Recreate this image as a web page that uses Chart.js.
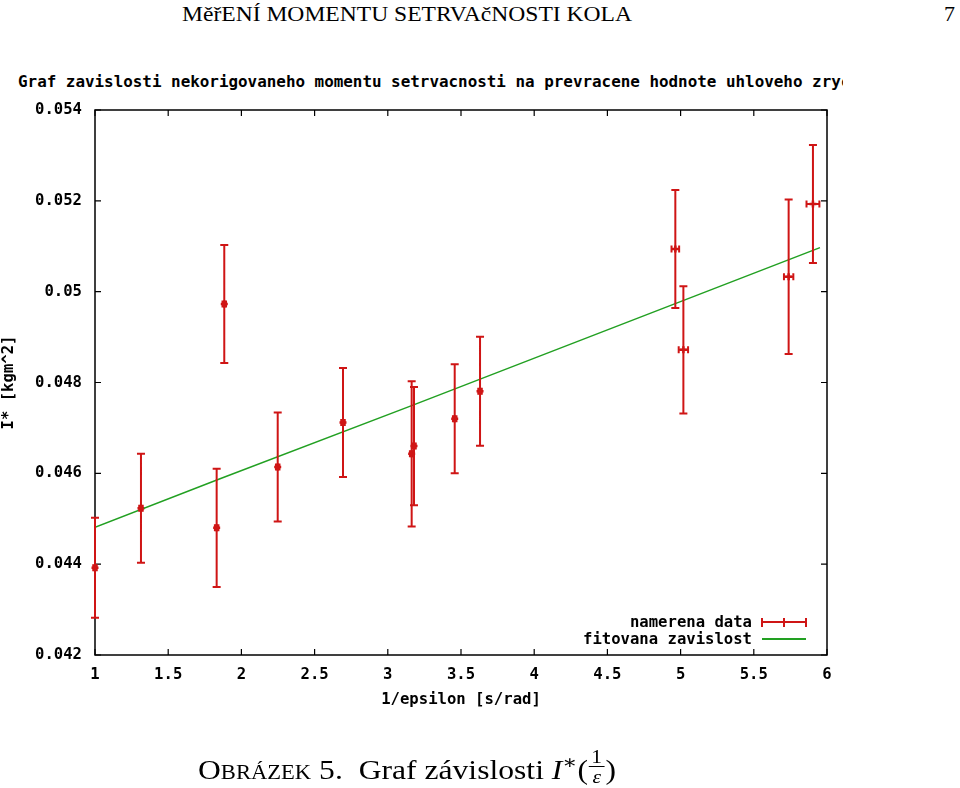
<!DOCTYPE html>
<html>
<head>
<meta charset="utf-8">
<script src="https://cdn.jsdelivr.net/npm/chart.js@4.4.1/dist/chart.umd.min.js"></script>
<style>
    body { margin: 0; background: #fff; width: 960px; height: 788px; overflow: hidden; position: relative; font-family: "Liberation Serif", "DejaVu Serif", serif; color: #000; }
    #wrap { position: absolute; left: 0; top: 0; width: 960px; height: 788px; }
    .mono { font-family: "DejaVu Sans Mono", monospace; font-weight: bold; font-size: 15.6px; color: #000; }
    #header { position: absolute; left: 182px; top: 3px; font-size: 22px; line-height: 22px; white-space: nowrap; transform-origin: 0 0; }
    #pagenum { position: absolute; left: 944px; top: 3px; font-size: 22px; line-height: 22px; }
    #title { position: absolute; left: 18px; top: 74px; width: 825px; line-height: 16px; overflow: hidden; white-space: nowrap; font-size: 15.9px; }
    #caption { position: absolute; left: 198px; top: 747px; font-size: 28px; line-height: 28px; white-space: nowrap; transform-origin: 0 0; }
    .sc { font-variant: small-caps; }
    .frac { display: inline-block; vertical-align: -0.2em; font-size: 0.68em; text-align: center; line-height: 1; margin: 0 1px; }
    .frac .num { display: block; border-bottom: 1px solid #000; padding: 0 2px; }
    .frac .den { display: block; }
    .legend-row { position: absolute; line-height: 17px; white-space: nowrap; }
    .sample { position: absolute; width: 44px; height: 0; }
</style>
</head>
<body>
<div id="header">MěřENÍ MOMENTU SETRVAčNOSTI KOLA</div>
<div id="pagenum">7</div>
<div id="title" class="mono">Graf zavislosti nekorigovaneho momentu setrvacnosti na prevracene hodnote uhloveho zrychleni</div>
<div id="wrap"><canvas id="chart" width="960" height="788"></canvas></div>
<div class="legend-row mono" style="right:208px; top:614px;">namerena data</div>
<div class="legend-row mono" style="right:208px; top:631px;">fitovana zavislost</div>
<div id="caption"><span class="sc">Obrázek</span> 5.&nbsp; Graf závislosti <i>I</i><sup style="font-size:0.7em">∗</sup>(<span class="frac"><span class="num">1</span><span class="den"><i>ε</i></span></span>)</div>

<script>
document.addEventListener('DOMContentLoaded', () => {
    // measured points: 1/epsilon [s/rad] and I* [kgm^2]
    const xValues = [1.0, 1.314, 1.831, 1.883, 2.248, 2.694, 3.163, 3.179, 3.457, 3.630, 4.964, 5.019, 5.738, 5.904];
    const yValues = [0.04392, 0.04523, 0.04480, 0.04973, 0.04614, 0.04712, 0.04643, 0.04660, 0.04720, 0.04781, 0.05094, 0.04872, 0.05033, 0.05193];
    const yErrors = [0.0011, 0.0012, 0.0013, 0.0013, 0.0012, 0.0012, 0.0016, 0.0013, 0.0012, 0.0012, 0.0013, 0.0014, 0.0017, 0.0013];
    const xErrors = [0.012, 0.012, 0.012, 0.012, 0.012, 0.012, 0.012, 0.012, 0.012, 0.012, 0.026, 0.032, 0.032, 0.044];

    // fitted line
    const fitX = [1.0, 1.854, 3.163, 5.952];
    const fitY = [0.04481, 0.04588, 0.04749, 0.05097];

    const xTicks = [1, 1.5, 2, 2.5, 3, 3.5, 4, 4.5, 5, 5.5, 6];
    const xTickLabels = ['1', '1.5', '2', '2.5', '3', '3.5', '4', '4.5', '5', '5.5', '6'];
    const yTicks = [0.042, 0.044, 0.046, 0.048, 0.05, 0.052, 0.054];
    const yTickLabels = ['0.042', '0.044', '0.046', '0.048', '0.05', '0.052', '0.054'];

    const RED = '#cf1515';
    const GREEN = '#22a022';
    const monoFont = { family: '"DejaVu Sans Mono", monospace', weight: 'bold', size: 15.6 };

    // fit header and caption to their widths in the scan
    function fitWidth(el, target) {
        const w = el.getBoundingClientRect().width;
        el.style.transform = 'scaleX(' + (target / w) + ')';
    }
    fitWidth(document.getElementById('header'), 450);
    fitWidth(document.getElementById('caption'), 418);

    // legend samples
    function addSample(top, color, bars) {
        const s = document.createElement('div');
        s.className = 'sample';
        s.style.left = '762px';
        s.style.top = top + 'px';
        s.style.borderTop = '2px solid ' + color;
        document.body.appendChild(s);
        bars.forEach(x => {
            const b = document.createElement('div');
            b.style.cssText = 'position:absolute;width:2px;height:9px;top:-5.5px;background:' + color + ';left:' + x + 'px';
            s.appendChild(b);
        });
    }
    addSample(621, RED, [-1, 21, 43]);
    addSample(638, GREEN, []);

    // gnuplot-like frame with inward ticks
    const framePlugin = {
        id: 'frame',
        beforeDatasetsDraw(chart) {
            const { ctx, chartArea: a, scales } = chart;
            ctx.save();
            ctx.strokeStyle = '#000';
            ctx.lineWidth = 1.5;
            ctx.strokeRect(a.left, a.top, a.right - a.left, a.bottom - a.top);
            ctx.lineWidth = 1.2;
            ctx.beginPath();
            xTicks.forEach(v => {
                const px = scales.x.getPixelForValue(v);
                ctx.moveTo(px, a.bottom); ctx.lineTo(px, a.bottom - 6);
                ctx.moveTo(px, a.top); ctx.lineTo(px, a.top + 6);
            });
            yTicks.forEach(v => {
                const py = scales.y.getPixelForValue(v);
                ctx.moveTo(a.left, py); ctx.lineTo(a.left + 6, py);
                ctx.moveTo(a.right, py); ctx.lineTo(a.right - 6, py);
            });
            ctx.stroke();
            ctx.restore();
        }
    };

    const errorBarPlugin = {
        id: 'errorBars',
        afterDatasetsDraw(chart) {
            const { ctx, scales } = chart;
            ctx.save();
            ctx.strokeStyle = RED;
            ctx.lineWidth = 2;
            ctx.beginPath();
            xValues.forEach((xv, i) => {
                const px = scales.x.getPixelForValue(xv);
                const py = scales.y.getPixelForValue(yValues[i]);
                const top = scales.y.getPixelForValue(yValues[i] + yErrors[i]);
                const bot = scales.y.getPixelForValue(yValues[i] - yErrors[i]);
                const lx = scales.x.getPixelForValue(xv - xErrors[i]);
                const rx = scales.x.getPixelForValue(xv + xErrors[i]);
                ctx.moveTo(px, top); ctx.lineTo(px, bot);
                ctx.moveTo(px - 4, top); ctx.lineTo(px + 4, top);
                ctx.moveTo(px - 4, bot); ctx.lineTo(px + 4, bot);
                ctx.moveTo(lx, py); ctx.lineTo(rx, py);
                ctx.moveTo(lx, py - 3.5); ctx.lineTo(lx, py + 3.5);
                ctx.moveTo(rx, py - 3.5); ctx.lineTo(rx, py + 3.5);
            });
            ctx.stroke();
            ctx.restore();
        }
    };

    const ctx = document.getElementById('chart').getContext('2d');
    new Chart(ctx, {
        type: 'scatter',
        data: {
            datasets: [{
                label: 'namerena data',
                data: xValues.map((x, i) => ({ x: x, y: yValues[i] })),
                pointStyle: 'cross',
                pointRadius: 3.5,
                borderColor: RED,
                backgroundColor: RED,
                borderWidth: 2.5,
                clip: false,
                order: 2
            }, {
                label: 'fitovana zavislost',
                type: 'line',
                data: fitX.map((x, i) => ({ x: x, y: fitY[i] })),
                showLine: true,
                borderColor: GREEN,
                borderWidth: 1.5,
                pointRadius: 0,
                tension: 0,
                order: 1
            }]
        },
        options: {
            responsive: false,
            animation: false,
            events: [],
            layout: { padding: { left: 0, right: 133, top: 110, bottom: 73 } },
            plugins: {
                legend: { display: false },
                tooltip: { enabled: false }
            },
            scales: {
                x: {
                    type: 'linear',
                    min: 1,
                    max: 6,
                    afterBuildTicks: scale => { scale.ticks = xTicks.map(v => ({ value: v })); },
                    afterFit: scale => { scale.height = 60; },
                    ticks: {
                        font: monoFont,
                        color: '#000',
                        padding: 3,
                        maxRotation: 0,
                        callback: (v, i) => xTickLabels[i]
                    },
                    grid: { display: false },
                    border: { display: false },
                    title: {
                        display: true,
                        text: '1/epsilon [s/rad]',
                        font: monoFont,
                        color: '#000',
                        padding: { top: 0, bottom: 6 }
                    }
                },
                y: {
                    type: 'linear',
                    min: 0.042,
                    max: 0.054,
                    afterBuildTicks: scale => { scale.ticks = yTicks.map(v => ({ value: v })); },
                    afterFit: scale => { scale.width = 95; },
                    ticks: {
                        font: monoFont,
                        color: '#000',
                        padding: 5,
                        callback: (v, i) => yTickLabels[i]
                    },
                    grid: { display: false },
                    border: { display: false },
                    title: {
                        display: true,
                        text: 'I* [kgm^2]',
                        font: monoFont,
                        color: '#000',
                        padding: { top: 0, bottom: 0 }
                    }
                }
            }
        },
        plugins: [framePlugin, errorBarPlugin]
    });
});
</script>
</body>
</html>
